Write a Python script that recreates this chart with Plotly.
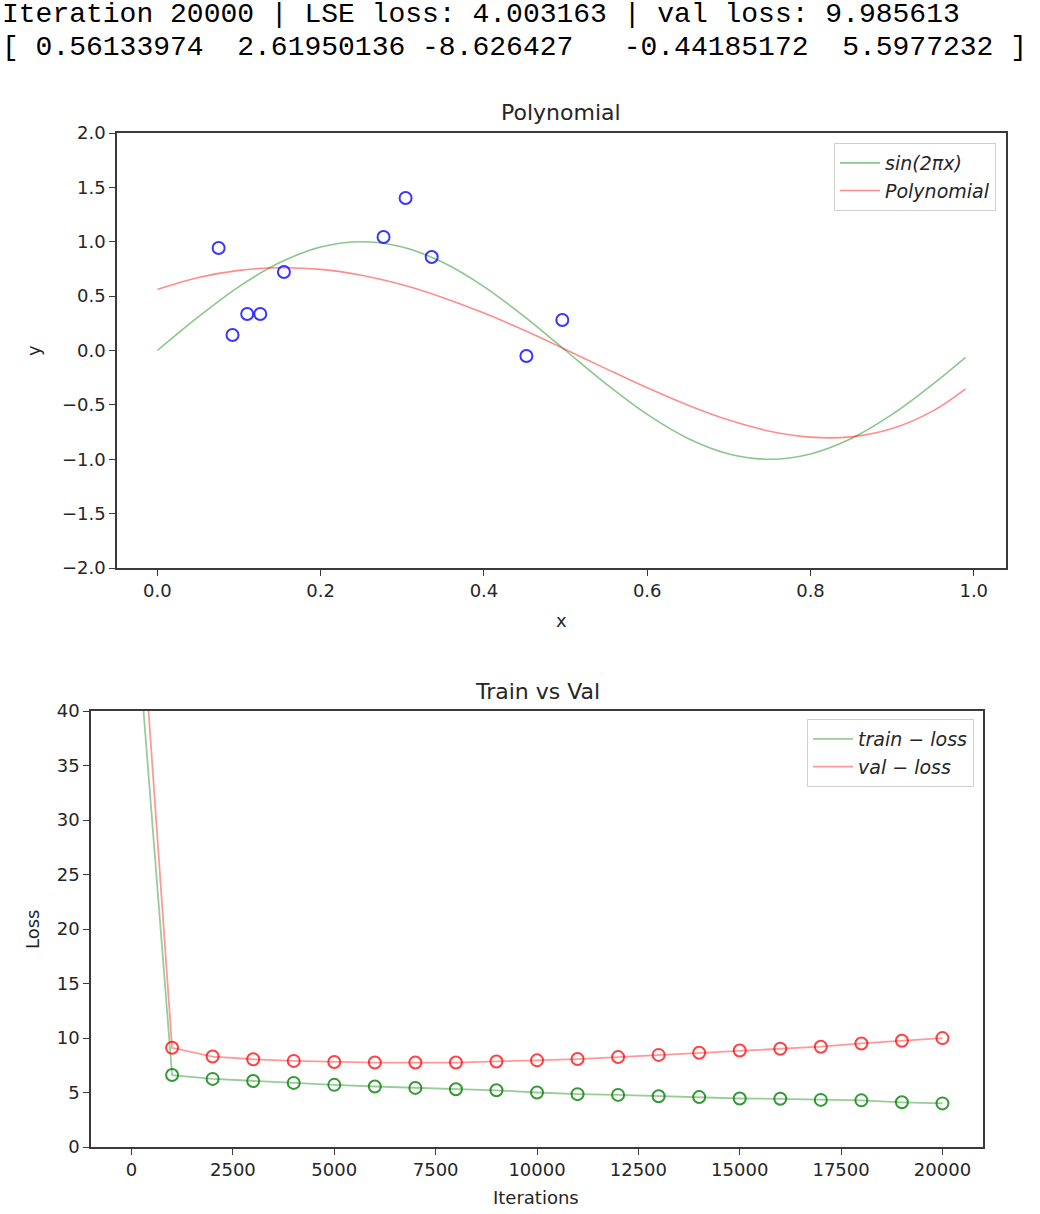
import plotly.graph_objects as go

# ---------------- data ----------------
header_line1 = "Iteration 20000 | LSE loss: 4.003163 | val loss: 9.985613"
header_line2 = "[ 0.56133974  2.61950136 -8.626427   -0.44185172  5.5977232 ]"

# top panel: training points
pts_x = [0.075, 0.092, 0.110, 0.126, 0.155, 0.277, 0.304, 0.336, 0.452, 0.496]
pts_y = [0.943, 0.143, 0.336, 0.336, 0.722, 1.044, 1.402, 0.860, -0.051, 0.280]

# curves
curve_x = [0.00, 0.05, 0.10, 0.15, 0.20, 0.25, 0.30, 0.35, 0.40, 0.45, 0.50,
           0.55, 0.60, 0.65, 0.70, 0.75, 0.80, 0.85, 0.90, 0.95, 0.99]
sin_y = [0.0, 0.309, 0.588, 0.809, 0.951, 1.0, 0.951, 0.809, 0.588, 0.309, 0.0,
         -0.309, -0.588, -0.809, -0.951, -1.0, -0.951, -0.809, -0.588, -0.309, -0.063]
poly_y = [0.561, 0.671, 0.737, 0.761, 0.746, 0.692, 0.604, 0.486, 0.344, 0.183, 0.009,
          -0.169, -0.343, -0.503, -0.640, -0.742, -0.797, -0.794, -0.718, -0.555, -0.352]

# bottom panel: losses
iters = [0, 1000, 2000, 3000, 4000, 5000, 6000, 7000, 8000, 9000, 10000,
         11000, 12000, 13000, 14000, 15000, 16000, 17000, 18000, 19000, 20000]
train_loss = [54.0, 6.6, 6.25, 6.05, 5.88, 5.7, 5.55, 5.42, 5.3, 5.2, 5.0,
              4.85, 4.78, 4.65, 4.58, 4.45, 4.42, 4.32, 4.28, 4.1, 4.0]
val_loss = [62.3, 9.1, 8.3, 8.05, 7.9, 7.8, 7.75, 7.75, 7.75, 7.85, 7.95,
            8.07, 8.25, 8.45, 8.65, 8.85, 9.02, 9.2, 9.5, 9.75, 9.99]

top_yticks = [-2.0, -1.5, -1.0, -0.5, 0.0, 0.5, 1.0, 1.5, 2.0]
top_xticks = [0.0, 0.2, 0.4, 0.6, 0.8, 1.0]
bot_yticks = [0, 5, 10, 15, 20, 25, 30, 35, 40]
bot_xticks = [0, 2500, 5000, 7500, 10000, 12500, 15000, 17500, 20000]

# ---------------- figure ----------------
W, H = 1040, 1214
FONT = "DejaVu Sans"
TXT = "#262626"

def px_x(p):
    return p / W

def px_y(p):
    return 1 - p / H

fig = go.Figure()

# top
fig.add_trace(go.Scatter(x=curve_x, y=sin_y, mode="lines", name="sin(2πx)",
                         line=dict(color="rgba(0,128,0,0.45)", width=1.6, shape="spline"),
                         xaxis="x", yaxis="y", legend="legend"))
fig.add_trace(go.Scatter(x=curve_x, y=poly_y, mode="lines", name="Polynomial",
                         line=dict(color="rgba(255,0,0,0.45)", width=1.6, shape="spline"),
                         xaxis="x", yaxis="y", legend="legend"))
fig.add_trace(go.Scatter(x=pts_x, y=pts_y, mode="markers", showlegend=False,
                         marker=dict(symbol="circle-open", size=12,
                                     color="rgba(20,20,255,0.85)", line=dict(width=2)),
                         xaxis="x", yaxis="y"))

# bottom
fig.add_trace(go.Scatter(x=iters, y=train_loss, mode="lines", name="train − loss",
                         line=dict(color="rgba(0,128,0,0.4)", width=1.8),
                         xaxis="x2", yaxis="y2", legend="legend2"))
fig.add_trace(go.Scatter(x=iters, y=val_loss, mode="lines", name="val − loss",
                         line=dict(color="rgba(255,0,0,0.4)", width=1.8),
                         xaxis="x2", yaxis="y2", legend="legend2"))
fig.add_trace(go.Scatter(x=iters[1:], y=train_loss[1:], mode="markers", showlegend=False,
                         marker=dict(symbol="circle-open", size=12,
                                     color="rgba(0,128,0,0.8)", line=dict(width=2)),
                         xaxis="x2", yaxis="y2"))
fig.add_trace(go.Scatter(x=iters[1:], y=val_loss[1:], mode="markers", showlegend=False,
                         marker=dict(symbol="circle-open", size=12,
                                     color="rgba(255,0,0,0.75)", line=dict(width=2)),
                         xaxis="x2", yaxis="y2"))

axis_common = dict(showgrid=False, zeroline=False, showline=True, mirror=True,
                   linecolor="#3a3a3a", linewidth=1.6, ticks="outside", ticklen=6,
                   tickwidth=1.3, tickcolor="#3a3a3a",
                   tickfont=dict(family=FONT, size=18, color=TXT), automargin=False)

legend_common = dict(xanchor="right", yanchor="top",
                     bgcolor="rgba(255,255,255,0.9)", bordercolor="#d0d0d0", borderwidth=1,
                     font=dict(family=FONT, size=19, color=TXT, style="italic"),
                     tracegroupgap=0, itemwidth=40)

fig.update_layout(
    width=W, height=H,
    margin=dict(l=0, r=0, t=0, b=0),
    paper_bgcolor="white", plot_bgcolor="white",
    xaxis=dict(domain=[px_x(117), px_x(1006)], range=[-0.0495, 1.0395],
               tickmode="array", tickvals=top_xticks, tickformat=".1f",
               anchor="y", **axis_common),
    yaxis=dict(domain=[px_y(568), px_y(133)], range=[-2.0, 2.0],
               tickmode="array", tickvals=top_yticks, tickformat=".1f",
               anchor="x", **axis_common),
    xaxis2=dict(domain=[px_x(91), px_x(983)], range=[-1000, 21000],
                tickmode="array", tickvals=bot_xticks, tickformat="d",
                anchor="y2", **axis_common),
    yaxis2=dict(domain=[px_y(1147), px_y(711)], range=[0, 40],
                tickmode="array", tickvals=bot_yticks, tickformat="d",
                anchor="x2", **axis_common),
    legend=dict(x=px_x(996), y=px_y(143), **legend_common),
    legend2=dict(x=px_x(974), y=px_y(719), **legend_common),
)

mono = dict(family="Liberation Mono", size=28, color="black")
ann = [
    dict(text=header_line1.replace(" ", "\u00a0"), x=0, y=px_y(14), xref="paper", yref="paper",
         xanchor="left", yanchor="middle", showarrow=False, font=mono),
    dict(text=header_line2.replace(" ", "\u00a0"), x=0, y=px_y(47), xref="paper", yref="paper",
         xanchor="left", yanchor="middle", showarrow=False, font=mono),
    dict(text="Polynomial", x=px_x(561), y=px_y(113), xref="paper", yref="paper",
         xanchor="center", yanchor="middle", showarrow=False,
         font=dict(family=FONT, size=22, color=TXT)),
    dict(text="Train vs Val", x=px_x(537), y=px_y(691), xref="paper", yref="paper",
         xanchor="center", yanchor="middle", showarrow=False,
         font=dict(family=FONT, size=22, color=TXT)),
    dict(text="x", x=px_x(561), y=px_y(620), xref="paper", yref="paper",
         xanchor="center", yanchor="middle", showarrow=False,
         font=dict(family=FONT, size=18, color=TXT)),
    dict(text="y", x=px_x(33), y=px_y(351), xref="paper", yref="paper",
         xanchor="center", yanchor="middle", showarrow=False, textangle=-90,
         font=dict(family=FONT, size=18, color=TXT)),
    dict(text="Iterations", x=px_x(536), y=px_y(1197), xref="paper", yref="paper",
         xanchor="center", yanchor="middle", showarrow=False,
         font=dict(family=FONT, size=18, color=TXT)),
    dict(text="Loss", x=px_x(32), y=px_y(930), xref="paper", yref="paper",
         xanchor="center", yanchor="middle", showarrow=False, textangle=-90,
         font=dict(family=FONT, size=18, color=TXT)),
]
fig.update_layout(annotations=ann)

fig.write_html("out.html", config={"displayModeBar": False},
               post_script="document.body.style.margin='0';")
